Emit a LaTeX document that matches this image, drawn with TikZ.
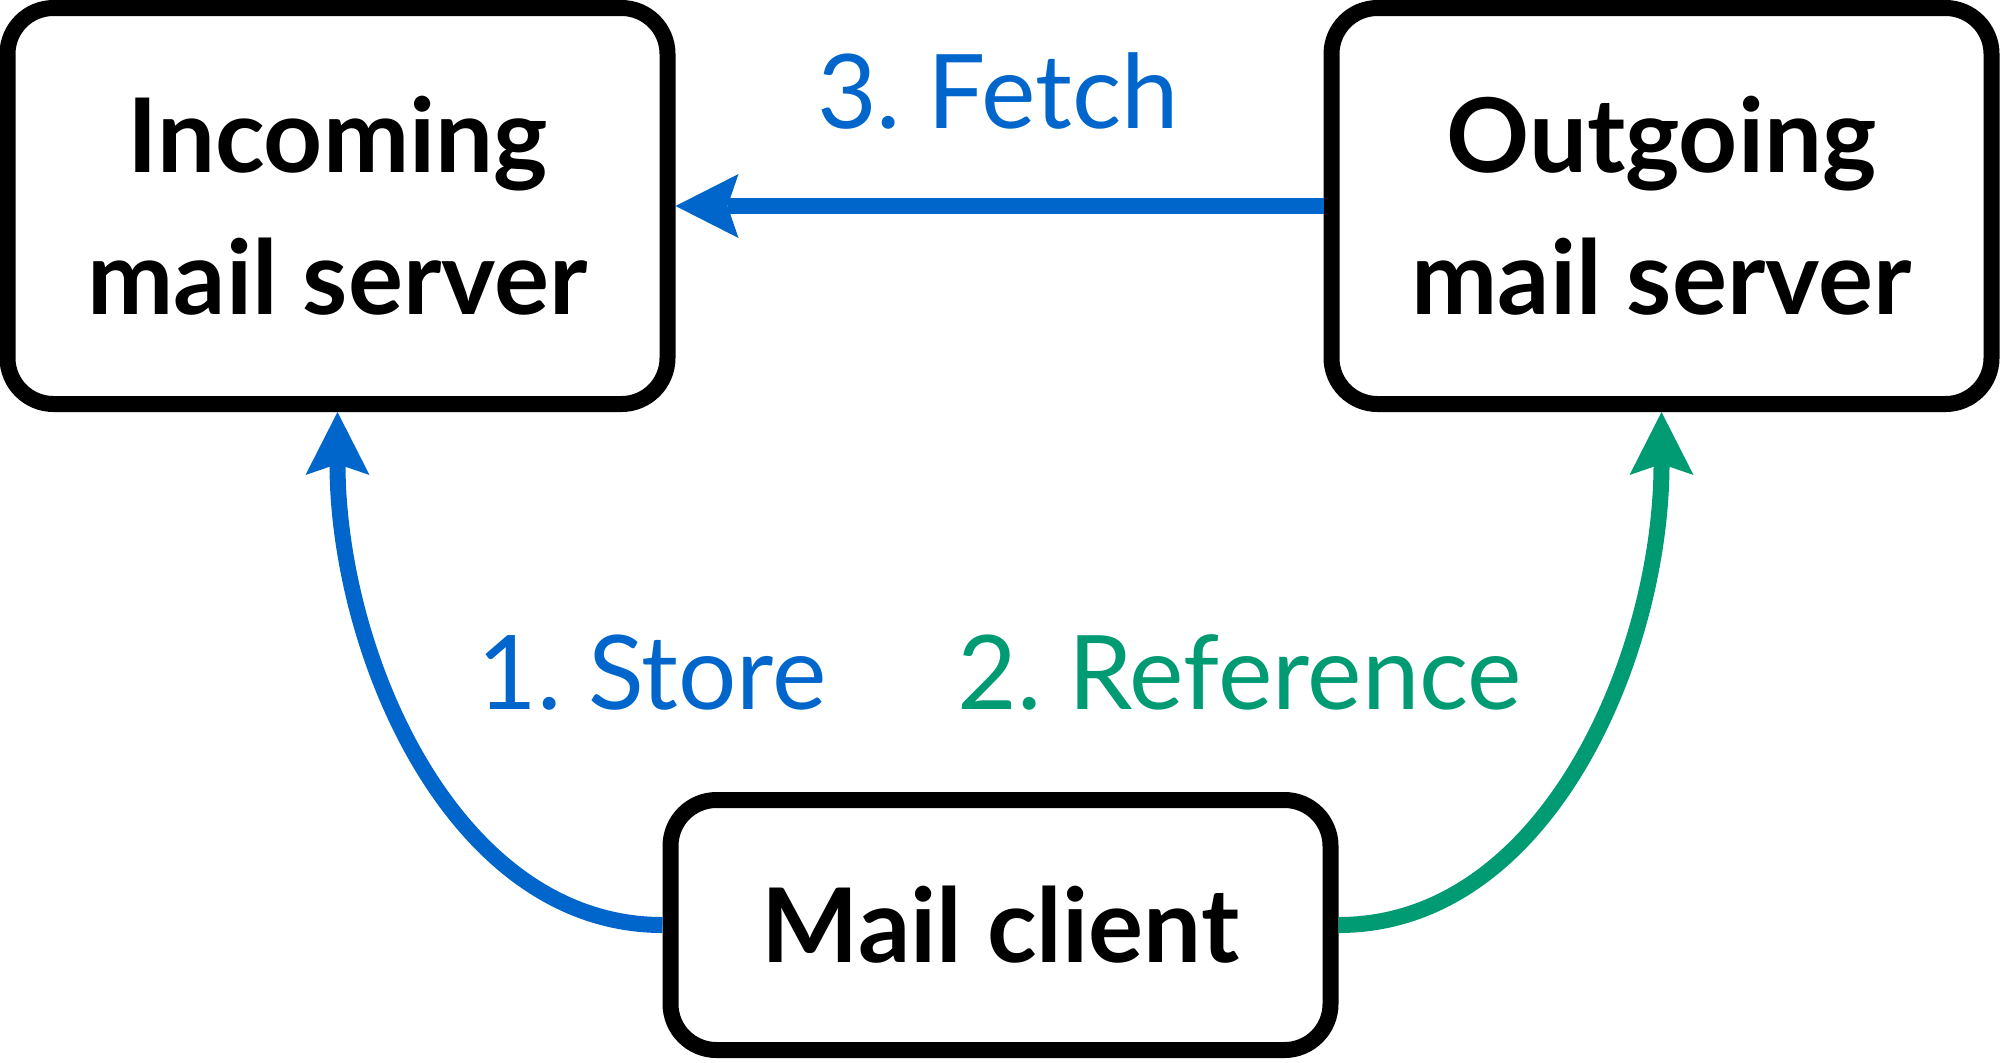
\documentclass[tikz,border=0pt]{standalone}
\usepackage{fontspec}
\setmainfont{Lato}
\usetikzlibrary{arrows.meta}
\definecolor{storeblue}{RGB}{0,102,204}
\definecolor{refgreen}{RGB}{0,155,115}
\frenchspacing

\begin{document}
\begin{tikzpicture}[x=0.5pt,y=-0.5pt]
    % `server' is used for the three boxes.
    % `flow' is used for the arrows (blue and green).
    % `steplabel' is used for the numbered texts.
    \tikzstyle{server} = [draw,line width=8pt,rounded corners=23pt,minimum width=330pt,align=center,
      font=\fontsize{51.5pt}{71pt}\selectfont\bfseries]
    \tikzstyle{flow} = [line width=8pt,-{Stealth[length=31.5pt,width=32pt,inset=5.5pt,line width=0pt]}]
    \tikzstyle{steplabel} = [anchor=base,font=\fontsize{51.5pt}{71pt}\selectfont]
    %
    \useasboundingbox (0,0) rectangle (2000,1062);
    \node[server,minimum height=198pt] (incoming) at (337.5,206) {Incoming\\mail server};
    \node[server,minimum height=198pt] (outgoing) at (1661.5,206) {Outgoing\\mail server};
    \node[server,minimum height=125pt] (client) at (1000.5,925) {Mail client};
    %
    \node[steplabel,storeblue] (fetch) at (998,128) {3. Fetch};
    \node[steplabel,storeblue] (store) at (652,709) {1. Store};
    \node[steplabel,refgreen] (reference) at (1240,709) {2. Reference};
    % Draw arrows.
    \draw[flow,storeblue] (outgoing.west) -- (incoming.east);
    \draw[flow,storeblue] (client.west) .. controls +(-210,0) and +(0,240) .. (incoming.south);
    \draw[flow,refgreen] (client.east) .. controls +(210,0) and +(0,240) .. (outgoing.south);
\end{tikzpicture}
\end{document}
